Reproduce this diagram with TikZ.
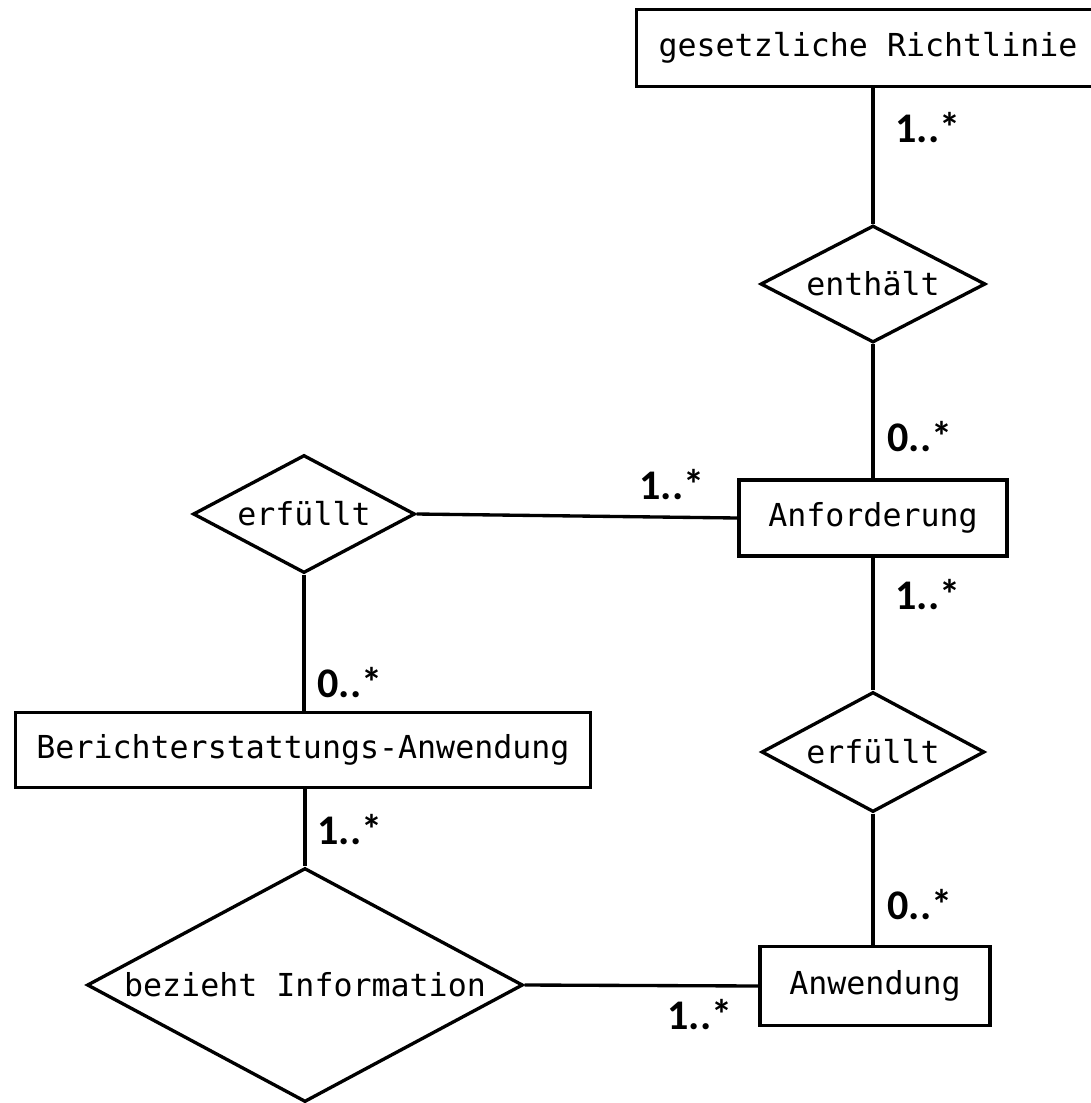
\documentclass[tikz,border=0pt]{standalone}
\usepackage{fontspec}
\setmainfont{Carlito}
\newfontfamily\monofont{DejaVu Sans Mono}
\usepackage{tikz}
\usetikzlibrary{shapes.geometric, calc}
\tikzset{
    entity/.style={draw, line width=1.9pt, rectangle, inner sep=0pt, font=\monofont\fontsize{18}{20}\selectfont},
    relation/.style={draw, line width=1.9pt, diamond, inner sep=0pt, font=\monofont\fontsize{18}{20}\selectfont},
    card/.style={font=\bfseries\fontsize{24}{26}\selectfont, inner sep=0pt},
    link/.style={line width=1.9pt}
}

\begin{document}
\begin{tikzpicture}[x=0.02cm, y=-0.02cm]
    \useasboundingbox (0,0) rectangle (1090,1103);

    % Coordinates
    \coordinate (R) at (868,48);
    \coordinate (E) at (873,284);
    \coordinate (A) at (873,518);
    \coordinate (F1) at (304,514);
    \coordinate (B) at (303,750);
    \coordinate (F2) at (873,752);
    \coordinate (W) at (875,986);
    \coordinate (I) at (305,985);

    % Entities
    \node[entity, minimum width=9.26cm, minimum height=1.54cm] (richt) at (R) {gesetzliche Richtlinie\hspace{0.52cm}};
    \node[entity, minimum width=5.36cm, minimum height=1.52cm] (anf) at (A) {Anforderung};
    \node[entity, minimum width=11.5cm, minimum height=1.5cm] (ber) at (B) {Berichterstattungs-Anwendung};
    \node[entity, minimum width=4.6cm, minimum height=1.58cm] (anw) at (W) {Anwendung};

    % Relations
    \node[relation, aspect=1.92, minimum width=4.5cm, minimum height=2.34cm] (enth) at (E) {enthält};
    \node[relation, aspect=1.88, minimum width=4.44cm, minimum height=2.36cm] (erfa) at (F1) {erfüllt};
    \node[relation, aspect=1.86, minimum width=4.46cm, minimum height=2.4cm] (erfb) at (F2) {erfüllt};
    \node[relation, aspect=1.86, minimum width=8.72cm, minimum height=4.68cm] (bez) at (I) {bezieht Information};

    % Lines
    \draw[link] (richt.south -| enth.north) -- (enth.north);
    \draw[link] (enth.south) -- (anf.north -| enth.south);
    \draw[link] (erfa.east) -- (anf.west);
    \draw[link] (erfa.south) -- (ber.north -| erfa.south);
    \draw[link] (anf.south -| erfb.north) -- (erfb.north);
    \draw[link] (erfb.south) -- (anw.north -| erfb.south);
    \draw[link] (ber.south -| bez.north) -- (bez.north);
    \draw[link] (bez.east) -- (anw.west);

    % Text
    \node[card] (c1) at (928,128) {1..*};
    \node[card] (c2) at (920,437) {0..*};
    \node[card] (c3) at (672,485) {1..*};
    \node[card] (c4) at (928,595) {1..*};
    \node[card] (c5) at (350,683) {0..*};
    \node[card] (c6) at (350,830) {1..*};
    \node[card] (c7) at (920,905) {0..*};
    \node[card] (c8) at (700,1015) {1..*};
\end{tikzpicture}
\end{document}
